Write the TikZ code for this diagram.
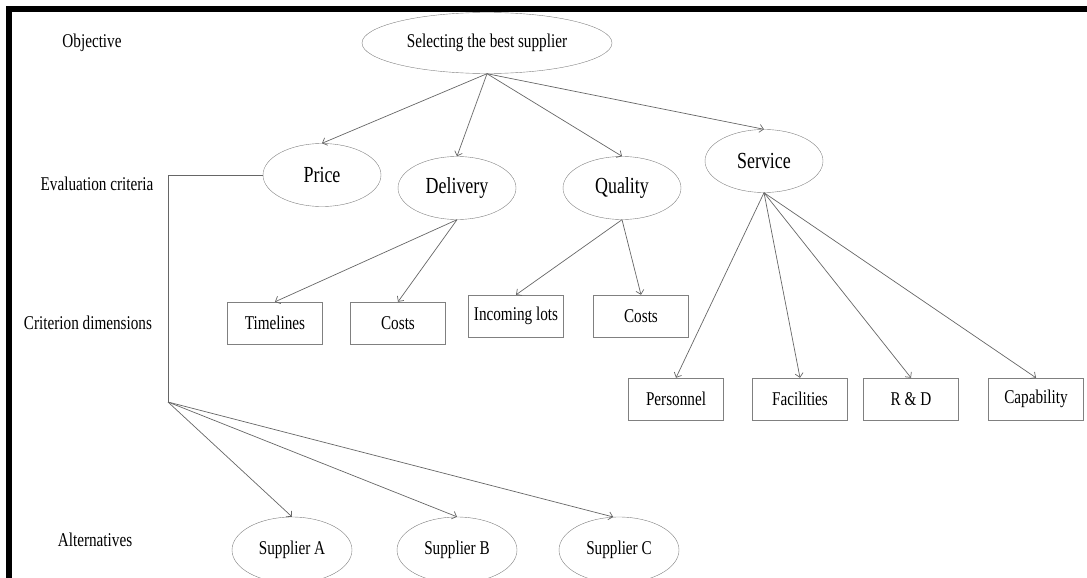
\documentclass[tikz,border=0pt]{standalone}
\usepackage{fontspec}
\setmainfont{Liberation Serif}[FakeStretch=0.78]
\usetikzlibrary{shapes.geometric, arrows, arrows.meta}
\tikzstyle{goal} = [ellipse, draw=gray, inner sep=0pt, minimum width=250pt,
                    minimum height=61pt, font=\fontsize{19.5}{21}\selectfont]
\tikzstyle{crit} = [ellipse, draw=gray, inner sep=0pt, minimum width=118pt,
                    minimum height=63pt, font=\fontsize{23}{25}\selectfont]
\tikzstyle{dim} = [rectangle, draw=gray, inner sep=0pt, minimum width=95pt,
                   minimum height=42pt, font=\fontsize{19.5}{21}\selectfont]
\tikzstyle{alt} = [ellipse, draw=gray, inner sep=0pt, minimum width=120pt,
                   minimum height=66pt, font=\fontsize{19.5}{21}\selectfont]
\tikzstyle{level} = [font=\fontsize{19.5}{21}\selectfont]
\tikzstyle{arrow} = [-{Straight Barb[length=4pt, width=8pt]},
                     color=gray!80!black, line width=0.7pt]
\tikzstyle{line} = [color=gray!80!black, line width=0.7pt]

\begin{document}
\begin{tikzpicture}[x=1pt, y=-1pt]
\useasboundingbox (0,0) rectangle (1087,578);
\fill [black] (6,6) rectangle (1087,12);
\fill [black] (6,6) rectangle (12,578);

% level labels
\node (lobj) [level] at (92,43) {Objective};
\node (leval) [level] at (97,184) {Evaluation criteria};
\node (ldim) [level] at (88,323) {Criterion dimensions};
\node (lalt) [level] at (95,540) {Alternatives};

% objective and criteria
\node (goal) [goal] at (487,43) {Selecting the best supplier};
\node (price) [crit] at (322,175) {Price};
\node (delivery) [crit] at (457,188) {Delivery};
\node (quality) [crit] at (622,188) {Quality};
\node (service) [crit] at (764,161) {Service};

% criterion dimensions
\node (timelines) [dim] at (275,323) {Timelines};
\node (dcosts) [dim] at (398,323) {Costs};
\node (lots) [dim] at (516,316) {Incoming lots};
\node (qcosts) [dim] at (641,316) {Costs};
\node (personnel) [dim] at (676,399) {Personnel};
\node (facilities) [dim] at (800,399) {Facilities};
\node (rnd) [dim] at (911,399) {R \& D};
\node (capability) [dim] at (1036,399) {Capability};

% alternatives
\node (supA) [alt] at (292,550) {Supplier A};
\node (supB) [alt] at (457,550) {Supplier B};
\node (supC) [alt] at (619,550) {Supplier C};

\draw [arrow] (goal.south) -- (price.north);
\draw [arrow] (goal.south) -- (delivery.north);
\draw [arrow] (goal.south) -- (quality.north);
\draw [arrow] (goal.south) -- (service.north);

\draw [arrow] (delivery.south) -- (timelines.north);
\draw [arrow] (delivery.south) -- (dcosts.north);
\draw [arrow] (quality.south) -- (lots.north);
\draw [arrow] (quality.south) -- (qcosts.north);

\draw [arrow] (service.south) -- (personnel.north);
\draw [arrow] (service.south) -- (facilities.north);
\draw [arrow] (service.south) -- (rnd.north);
\draw [arrow] (service.south) -- (capability.north);

\coordinate (elbow) at (168,175);
\coordinate (fork) at (168,402);
\draw [line] (price.west) -- (elbow) -- (fork);
\draw [arrow] (fork) -- (supA.north);
\draw [arrow] (fork) -- (supB.north);
\draw [arrow] (fork) -- (supC.100);

\end{tikzpicture}
\end{document}
